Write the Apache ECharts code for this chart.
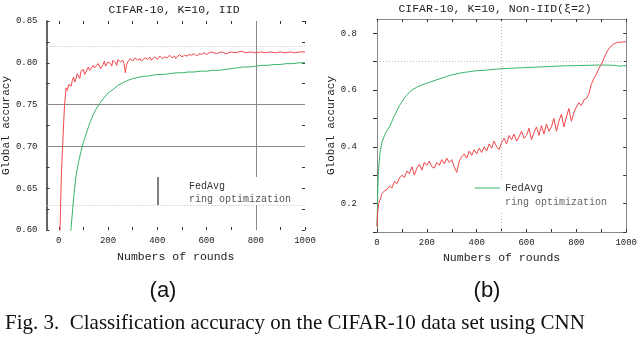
<!DOCTYPE html>
<html><head><meta charset="utf-8">
<script src="https://cdn.jsdelivr.net/npm/echarts@6/dist/echarts.min.js"></script>
<style>html,body{margin:0;padding:0;background:#fff}#c{width:640px;height:340px}</style>
</head><body><div id="c"></div>
<script>
// ---- data ----
const titleA = 'CIFAR-10, K=10, IID';
const titleB = 'CIFAR-10, K=10, Non-IID(ξ=2)';
const xName = 'Numbers of rounds';
const yName = 'Global accuracy';
const legendNames = ['FedAvg', 'ring optimization'];
const xTicks = [0,100,200,300,400,500,600,700,800,900,1000];
const xLabels = [0,200,400,600,800,1000];

// (a) IID, ring optimization (red)
const ringA = [[1,0.45],[3,0.55],[5,0.60],[8,0.64],[11,0.67],[14,0.69],[17,0.71],[20,0.73],[23,0.748],[26,0.758],[30,0.77],[35,0.767],[40,0.774],[45,0.776],[50,0.772],[55,0.779],[60,0.783],[65,0.777],[70,0.781],[75,0.787],[80,0.785],[85,0.781],[90,0.79],[95,0.788],[100,0.792],[105,0.786],[110,0.789],[120,0.795],[125,0.791],[130,0.789],[140,0.797],[145,0.794],[150,0.792],[160,0.799],[165,0.797],[170,0.793],[180,0.798],[185,0.802],[190,0.796],[200,0.801],[210,0.799],[215,0.796],[220,0.803],[230,0.8],[235,0.797],[240,0.804],[250,0.801],[260,0.803],[265,0.799],[270,0.788],[275,0.797],[280,0.801],[290,0.805],[300,0.802],[305,0.8],[310,0.806],[320,0.803],[330,0.805],[335,0.802],[340,0.801],[350,0.806],[360,0.804],[370,0.807],[375,0.803],[380,0.805],[390,0.807],[400,0.804],[410,0.808],[420,0.805],[425,0.803],[430,0.807],[440,0.806],[450,0.809],[460,0.806],[470,0.808],[475,0.805],[480,0.807],[490,0.81],[500,0.807],[510,0.809],[520,0.808],[525,0.806],[530,0.81],[540,0.809],[550,0.811],[560,0.808],[570,0.811],[580,0.81],[590,0.812],[600,0.81],[610,0.812],[620,0.813],[640,0.811],[660,0.813],[670,0.812],[680,0.811],[700,0.813],[720,0.812],[740,0.814],[760,0.812],[780,0.813],[800,0.812],[820,0.813],[840,0.812],[860,0.813],[880,0.812],[900,0.813],[920,0.812],[940,0.813],[960,0.812],[980,0.813],[1000,0.813]];
// (a) IID, FedAvg (green)
const fedA = [[40,0.575],[45,0.59],[50,0.603],[55,0.62],[60,0.638],[65,0.652],[70,0.665],[80,0.681],[90,0.694],[100,0.705],[110,0.714],[120,0.723],[130,0.731],[140,0.738],[150,0.744],[165,0.751],[180,0.757],[200,0.764],[220,0.768],[240,0.773],[260,0.776],[280,0.779],[300,0.781],[315,0.782],[330,0.783],[345,0.784],[360,0.784],[380,0.785],[400,0.786],[425,0.786],[450,0.787],[475,0.788],[500,0.788],[525,0.789],[550,0.789],[575,0.79],[600,0.79],[625,0.791],[650,0.791],[675,0.792],[700,0.793],[725,0.794],[750,0.795],[775,0.795],[800,0.796],[825,0.797],[850,0.797],[875,0.798],[900,0.798],[925,0.799],[950,0.799],[975,0.8],[1000,0.8]];

// (b) Non-IID, FedAvg (green)
const fedB = [[0,0.12],[2,0.2],[4,0.27],[6,0.31],[8,0.34],[10,0.36],[14,0.39],[20,0.415],[30,0.44],[40,0.457],[50,0.47],[60,0.49],[70,0.51],[80,0.527],[90,0.545],[100,0.558],[110,0.572],[120,0.583],[130,0.592],[140,0.6],[160,0.61],[180,0.618],[200,0.624],[220,0.63],[240,0.636],[260,0.642],[280,0.648],[300,0.653],[325,0.658],[350,0.662],[375,0.665],[400,0.668],[425,0.669],[450,0.671],[475,0.673],[500,0.675],[525,0.676],[550,0.677],[575,0.678],[600,0.679],[650,0.681],[700,0.683],[750,0.685],[800,0.686],[850,0.687],[900,0.688],[950,0.687],[975,0.684],[1000,0.686]];
// (b) Non-IID, ring optimization (red)
const ringB = [[0,0.12],[2,0.16],[4,0.18],[6,0.195],[8,0.2],[10,0.21],[15,0.22],[20,0.235],[25,0.228],[30,0.245],[40,0.25],[50,0.262],[60,0.255],[70,0.278],[80,0.27],[90,0.29],[100,0.3],[110,0.292],[120,0.315],[130,0.305],[140,0.33],[150,0.3],[160,0.325],[170,0.338],[180,0.318],[190,0.345],[200,0.335],[210,0.35],[220,0.33],[230,0.325],[240,0.345],[250,0.335],[260,0.355],[270,0.34],[280,0.36],[290,0.345],[300,0.355],[310,0.33],[320,0.31],[330,0.35],[340,0.365],[350,0.375],[360,0.36],[370,0.385],[380,0.37],[390,0.39],[400,0.375],[410,0.395],[420,0.38],[430,0.4],[440,0.385],[450,0.41],[460,0.395],[470,0.42],[480,0.4],[490,0.39],[500,0.415],[510,0.43],[520,0.41],[530,0.44],[540,0.425],[550,0.445],[560,0.42],[570,0.435],[580,0.455],[590,0.43],[600,0.44],[610,0.465],[620,0.425],[630,0.45],[640,0.47],[650,0.44],[660,0.475],[670,0.445],[680,0.48],[690,0.455],[700,0.47],[710,0.5],[720,0.455],[730,0.49],[740,0.515],[750,0.47],[760,0.505],[770,0.535],[780,0.49],[790,0.52],[800,0.54],[810,0.555],[820,0.545],[830,0.565],[840,0.57],[850,0.585],[860,0.62],[870,0.64],[880,0.655],[890,0.675],[900,0.69],[910,0.71],[920,0.73],[930,0.745],[940,0.755],[950,0.762],[960,0.766],[970,0.768],[980,0.768],[990,0.77],[1000,0.77]];

const yTicksA = [0.6,0.625,0.65,0.675,0.7,0.725,0.75,0.775,0.8,0.825,0.85];
const yLabelsA = [0.6,0.65,0.7,0.75,0.8,0.85];
const yTicksB = [0.1,0.2,0.3,0.4,0.5,0.6,0.7,0.8];
const yLabelsB = [0.2,0.4,0.6,0.8];

// ---- chart ----
const RED = '#f0474a', GREEN = '#35b46a';
const MONO = 'Liberation Mono';
const chart = echarts.init(document.getElementById('c'), null, {renderer:'canvas'});
const lbl = {fontFamily: MONO, fontSize: 9, color: '#222'};

function xAxisDef(grid, pos, opts) {
  return Object.assign({
    gridIndex: grid, type: 'value', position: pos,
    splitLine: {show: false},
    axisTick: {inside: true, length: 3, customValues: xTicks, lineStyle: {color: '#333'}},
    axisLabel: {show: false}
  }, opts);
}
function yAxisDef(grid, pos, opts) {
  return Object.assign({
    gridIndex: grid, type: 'value', position: pos,
    splitLine: {show: false},
    axisLabel: {show: false}
  }, opts);
}

const option = {
  animation: false,
  backgroundColor: '#fff',
  grid: [
    {left: 44, top: 21, width: 261, height: 209},
    {left: 377, top: 19, width: 253, height: 213}
  ],
  xAxis: [
    xAxisDef(0, 'bottom', {min: -50, max: 1000, axisLine: {show: false, onZero: false},
      axisLabel: Object.assign({show: true, margin: 6, customValues: xLabels, formatter: v => String(v)}, lbl),
      name: xName, nameLocation: 'middle', nameGap: 21,
      nameTextStyle: {fontFamily: MONO, fontSize: 11.5, color: '#222'}}),
    xAxisDef(0, 'top', {min: -50, max: 1000, axisLine: {show: false, onZero: false}}),
    xAxisDef(1, 'bottom', {min: 0, max: 1000, axisLine: {show: true, onZero: false, lineStyle: {color: '#888'}},
      axisLabel: Object.assign({show: true, margin: 6, customValues: xLabels, formatter: v => String(v)}, lbl),
      name: xName, nameLocation: 'middle', nameGap: 19,
      nameTextStyle: {fontFamily: MONO, fontSize: 11.5, color: '#222'}}),
    xAxisDef(1, 'top', {min: 0, max: 1000, axisLine: {show: true, onZero: false, lineStyle: {color: '#888'}}})
  ],
  yAxis: [
    yAxisDef(0, 'left', {min: 0.6, max: 0.85,
      axisLine: {show: true, onZero: false, lineStyle: {color: '#333', width: 1.5}},
      axisTick: {show: true, inside: true, length: 3, customValues: yTicksA, lineStyle: {color: '#333'}},
      axisLabel: Object.assign({show: true, margin: 9, customValues: yLabelsA,
        formatter: v => v.toFixed(2)}, lbl),
      name: yName, nameLocation: 'middle', nameGap: 27,
      nameTextStyle: {fontFamily: MONO, fontSize: 11, color: '#222'}}),
    yAxisDef(0, 'right', {min: 0.6, max: 0.85, axisLine: {show: false, onZero: false},
      axisTick: {show: true, inside: true, length: 3, customValues: yTicksA, lineStyle: {color: '#333'}}}),
    yAxisDef(1, 'left', {min: 0.1, max: 0.85,
      axisLine: {show: true, onZero: false, lineStyle: {color: '#888'}},
      axisTick: {show: true, inside: false, length: 4, customValues: yTicksB, lineStyle: {color: '#333'}},
      axisLabel: Object.assign({show: true, margin: 20, customValues: yLabelsB,
        formatter: v => v.toFixed(1)}, lbl),
      name: yName, nameLocation: 'middle', nameGap: 38,
      nameTextStyle: {fontFamily: MONO, fontSize: 11, color: '#222'}}),
    yAxisDef(1, 'right', {min: 0.1, max: 0.85,
      axisLine: {show: true, onZero: false, lineStyle: {color: '#888'}},
      axisTick: {show: true, inside: true, length: 3, customValues: yTicksB, lineStyle: {color: '#333'}}})
  ],
  series: [
    {type: 'line', name: legendNames[0], xAxisIndex: 0, yAxisIndex: 0, data: fedA,
      showSymbol: false, symbol: 'none', lineStyle: {color: GREEN, width: 1}, clip: true, z: 3,
      markLine: {silent: true, symbol: 'none', label: {show: false}, z: 1, animation: false,
        data: [
          {yAxis: 0.825, lineStyle: {color: '#bbb', type: [1, 2], width: 1}},
          {yAxis: 0.75, lineStyle: {color: '#888', type: 'solid', width: 1}},
          {yAxis: 0.70, lineStyle: {color: '#888', type: 'solid', width: 1}},
          {yAxis: 0.625, lineStyle: {color: '#bbb', type: [1, 2], width: 1}},
          {xAxis: 800, lineStyle: {color: '#888', type: 'solid', width: 1}}
        ]}},
    {type: 'line', name: legendNames[1], xAxisIndex: 0, yAxisIndex: 0, data: ringA,
      showSymbol: false, symbol: 'none', lineStyle: {color: RED, width: 1}, clip: true, z: 4},
    {type: 'line', name: legendNames[0], xAxisIndex: 2, yAxisIndex: 2, data: fedB,
      showSymbol: false, symbol: 'none', lineStyle: {color: GREEN, width: 1}, clip: true, z: 3,
      markLine: {silent: true, symbol: 'none', label: {show: false}, z: 1, animation: false,
        data: [
          {yAxis: 0.7, lineStyle: {color: '#bbb', type: [1, 2], width: 1}},
          {xAxis: 500, lineStyle: {color: '#bbb', type: [1, 2], width: 1}}
        ]}},
    {type: 'line', name: legendNames[1], xAxisIndex: 2, yAxisIndex: 2, data: ringB,
      showSymbol: false, symbol: 'none', lineStyle: {color: RED, width: 1}, clip: true, z: 4}
  ],
  graphic: [
    {type: 'text', x: 174, y: 10, z: 100, style: {text: titleA, font: '11.5px "Liberation Mono"', fill: '#222', align: 'center', verticalAlign: 'middle'}},
    {type: 'text', x: 495, y: 9, z: 100, style: {text: titleB, font: '11.5px "Liberation Mono"', fill: '#222', align: 'center', verticalAlign: 'middle'}},
    // legend (a)
    {type: 'rect', z: 100, shape: {x: 158, y: 177, width: 138, height: 28}, style: {fill: '#fff'}},
    {type: 'line', z: 101, shape: {x1: 158, y1: 177, x2: 158, y2: 205}, style: {stroke: '#000', lineWidth: 1}},
    {type: 'text', z: 101, x: 189, y: 186, style: {text: legendNames[0], font: '10px "Liberation Mono"', fill: '#333', verticalAlign: 'middle'}},
    {type: 'text', z: 101, x: 189, y: 199, style: {text: legendNames[1], font: '10px "Liberation Mono"', fill: '#555', verticalAlign: 'middle'}},
    // legend (b)
    {type: 'rect', z: 100, shape: {x: 470, y: 180, width: 145, height: 31}, style: {fill: '#fff'}},
    {type: 'line', z: 101, shape: {x1: 475, y1: 188, x2: 500, y2: 188}, style: {stroke: GREEN, lineWidth: 1}},
    {type: 'text', z: 101, x: 505, y: 188, style: {text: legendNames[0], font: '10.5px "Liberation Mono"', fill: '#333', verticalAlign: 'middle'}},
    {type: 'text', z: 101, x: 505, y: 202, style: {text: legendNames[1], font: '10px "Liberation Mono"', fill: '#666', verticalAlign: 'middle'}},
    // sub-labels and caption
    {type: 'text', x: 163, y: 291, style: {text: '(a)', font: '22px "Liberation Sans"', fill: '#111', align: 'center', verticalAlign: 'middle'}},
    {type: 'text', x: 487, y: 291, style: {text: '(b)', font: '22px "Liberation Sans"', fill: '#111', align: 'center', verticalAlign: 'middle'}},
    {type: 'text', x: 5, y: 323, style: {text: 'Fig. 3.  Classification accuracy on the CIFAR-10 data set using CNN', font: '21px "Liberation Serif"', fill: '#111', verticalAlign: 'middle'}}
  ]
};
chart.setOption(option);
</script></body></html>
